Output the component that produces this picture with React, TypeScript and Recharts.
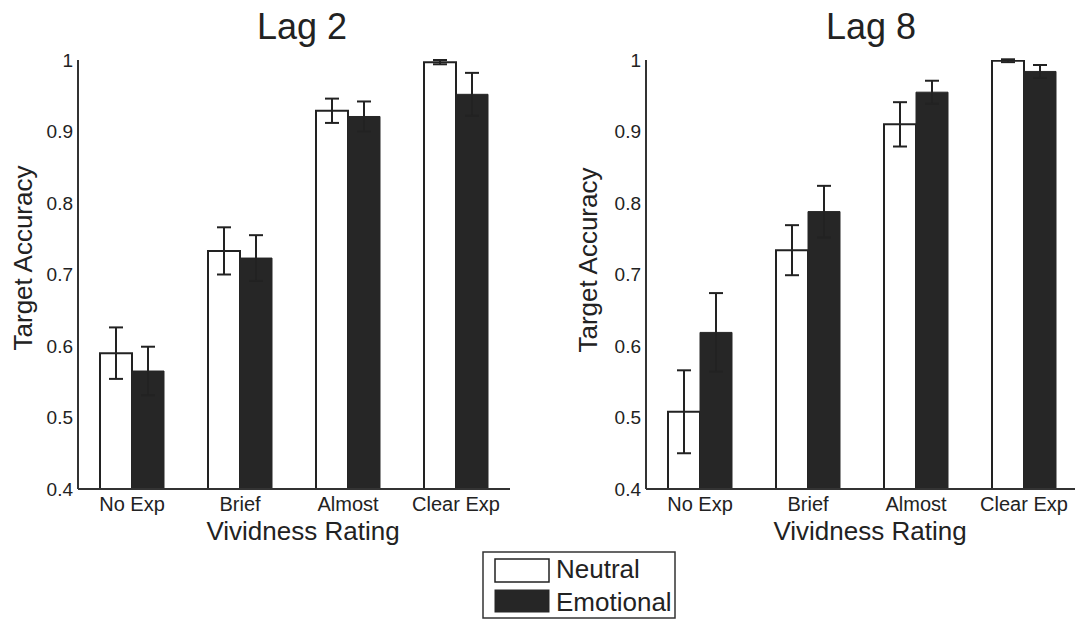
import React from 'react'
import { BarChart, Bar, XAxis, YAxis, ErrorBar } from 'recharts'

const categories = ['No Exp', 'Brief', 'Almost', 'Clear Exp']

const lag2Neutral = [0.59, 0.733, 0.929, 0.997]
const lag2NeutralErr = [0.036, 0.033, 0.017, 0.003]
const lag2Emotional = [0.565, 0.723, 0.921, 0.952]
const lag2EmotionalErr = [0.034, 0.032, 0.021, 0.03]

const lag8Neutral = [0.508, 0.734, 0.91, 0.999]
const lag8NeutralErr = [0.058, 0.035, 0.031, 0.002]
const lag8Emotional = [0.619, 0.788, 0.955, 0.984]
const lag8EmotionalErr = [0.055, 0.036, 0.016, 0.009]

const yTicks = [0.4, 0.5, 0.6, 0.7, 0.8, 0.9, 1]

const FONT = '"Liberation Sans", Arial, Helvetica, sans-serif'
const INK = '#222'
const DARK = '#262626'

function buildRows(neutral: number[], neutralErr: number[], emotional: number[], emotionalErr: number[]) {
    return categories.map((name, i) => ({
        name,
        neutral: neutral[i],
        neutralErr: neutralErr[i],
        emotional: emotional[i],
        emotionalErr: emotionalErr[i],
    }))
}

interface PanelProps {
    rows: ReturnType<typeof buildRows>
    left: number
    marginLeft: number
    marginRight: number
}

function Panel({ rows, left, marginLeft, marginRight }: PanelProps) {
    return (
        <div style={{ position: 'absolute', left, top: 0 }}>
            <BarChart
                width={540}
                height={619}
                data={rows}
                margin={{ top: 60, left: marginLeft, right: marginRight, bottom: 100 }}
                barGap={0}
                barSize={32}
            >
                <XAxis
                    dataKey="name"
                    height={30}
                    tickLine={false}
                    tickSize={0}
                    tickMargin={8}
                    axisLine={{ stroke: '#333', strokeWidth: 2 }}
                    tick={{ fill: INK, fontSize: 20, fontFamily: FONT }}
                    interval={0}
                />
                <YAxis
                    width={60}
                    domain={[0.4, 1]}
                    ticks={yTicks}
                    allowDataOverflow
                    tickLine={false}
                    tickSize={0}
                    tickMargin={5}
                    axisLine={{ stroke: '#333', strokeWidth: 2 }}
                    tick={{ fill: INK, fontSize: 19, fontFamily: FONT }}
                    tickFormatter={(v: number) => (v === 1 ? '1' : String(v))}
                />
                <Bar dataKey="neutral" fill="#fff" stroke={INK} strokeWidth={2} isAnimationActive={false}>
                    <ErrorBar dataKey="neutralErr" direction="y" width={7} stroke={INK} strokeWidth={2} />
                </Bar>
                <Bar dataKey="emotional" fill={DARK} stroke={DARK} strokeWidth={1} isAnimationActive={false}>
                    <ErrorBar dataKey="emotionalErr" direction="y" width={7} stroke={INK} strokeWidth={2} />
                </Bar>
            </BarChart>
        </div>
    )
}

export default function App() {
    const lag2Rows = buildRows(lag2Neutral, lag2NeutralErr, lag2Emotional, lag2EmotionalErr)
    const lag8Rows = buildRows(lag8Neutral, lag8NeutralErr, lag8Emotional, lag8EmotionalErr)

    return (
        <div
            style={{
                position: 'absolute',
                left: 0,
                top: 0,
                width: 1075,
                height: 619,
                overflow: 'hidden',
                background: '#fff',
                fontFamily: FONT,
            }}
        >
            <Panel rows={lag2Rows} left={0} marginLeft={18} marginRight={30} />
            <Panel rows={lag8Rows} left={570} marginLeft={16} marginRight={32} />

            {/* titles, axis labels and legend */}
            <svg
                width={1075}
                height={619}
                style={{ position: 'absolute', left: 0, top: 0, pointerEvents: 'none' }}
                fontFamily={FONT}
                fill={INK}
            >
                <text x={302} y={39} fontSize={36} textAnchor="middle">Lag 2</text>
                <text x={871} y={39} fontSize={36} textAnchor="middle">Lag 8</text>

                <text x={303} y={540} fontSize={26} textAnchor="middle">Vividness Rating</text>
                <text x={870} y={540} fontSize={26} textAnchor="middle">Vividness Rating</text>

                <text x={32} y={258} fontSize={26} textAnchor="middle" transform="rotate(-90, 32, 258)">
                    Target Accuracy
                </text>
                <text x={597} y={260} fontSize={26} textAnchor="middle" transform="rotate(-90, 597, 260)">
                    Target Accuracy
                </text>

                <rect x={483} y={552} width={192} height={66} fill="#fff" stroke="#333" strokeWidth={1.5} />
                <rect x={495} y={559} width={54} height={23} fill="#fff" stroke={INK} strokeWidth={1.5} />
                <rect x={495} y={590} width={54} height={22} fill={DARK} stroke={DARK} strokeWidth={1} />
                <text x={556} y={578} fontSize={26}>Neutral</text>
                <text x={556} y={611} fontSize={26}>Emotional</text>
            </svg>
        </div>
    )
}
